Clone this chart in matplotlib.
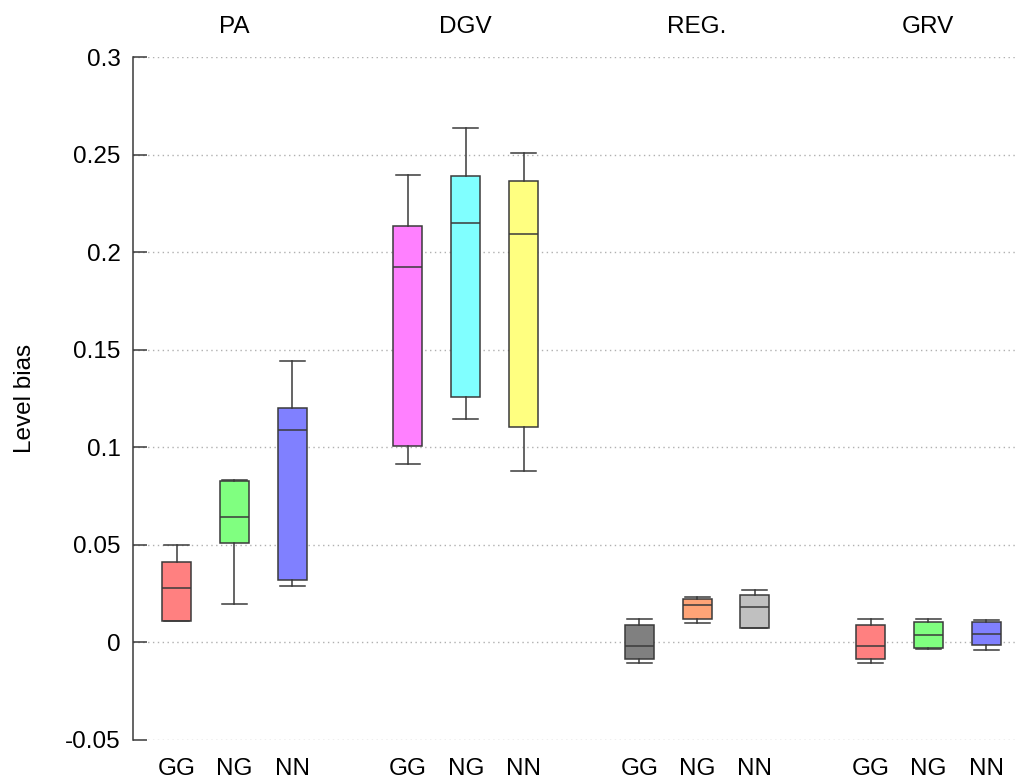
import matplotlib
matplotlib.use("Agg")
import matplotlib.pyplot as plt
import matplotlib.transforms as mtransforms

plt.rcParams['font.family'] = ['Liberation Sans', 'DejaVu Sans']

# groups and methods
groups = ['PA', 'DGV', 'REG.', 'GRV']
methods = ['GG', 'NG', 'NN']

# box statistics: whislo, q1, median, q3, whishi
whislo = [0.0109, 0.0197, 0.0289,
          0.0916, 0.1147, 0.0879,
          -0.0105, 0.0098, 0.0074,
          -0.0105, -0.0036, -0.0038]
q1 = [0.0109, 0.0511, 0.0319,
      0.1008, 0.1259, 0.1104,
      -0.0083, 0.0119, 0.0074,
      -0.0083, -0.0030, -0.0013]
med = [0.0279, 0.0643, 0.1089,
       0.1922, 0.2148, 0.2093,
       -0.0018, 0.0194, 0.0180,
       -0.0018, 0.0037, 0.0045]
q3 = [0.0414, 0.0827, 0.1201,
      0.2135, 0.2388, 0.2363,
      0.0091, 0.0224, 0.0242,
      0.0091, 0.0103, 0.0105]
whishi = [0.0500, 0.0830, 0.1442,
          0.2395, 0.2636, 0.2509,
          0.0119, 0.0235, 0.0269,
          0.0119, 0.0119, 0.0114]

fill_colors = ['#ff8080', '#80ff80', '#8080ff',
               '#ff80ff', '#80ffff', '#ffff80',
               '#808080', '#ffa477', '#c0c0c0',
               '#ff8080', '#80ff80', '#8080ff']

yticks = [-0.05, 0, 0.05, 0.1, 0.15, 0.2, 0.25, 0.3]
ytick_labels = ['-0.05', '0', '0.05', '0.1', '0.15', '0.2', '0.25', '0.3']

edge = '#3a3a3a'
fs = 17.5

# positions: 3 boxes per group, one empty slot between groups
positions = []
for g in range(len(groups)):
    for m in range(len(methods)):
        positions.append(1 + g * 4 + m)

stats = []
for i in range(len(positions)):
    stats.append({'whislo': whislo[i], 'q1': q1[i], 'med': med[i],
                  'q3': q3[i], 'whishi': whishi[i], 'fliers': []})

fig = plt.figure(figsize=(10.19, 7.80), dpi=100)
ax = fig.add_axes([133 / 1019, 1 - 740 / 780, (1018 - 133) / 1019, (740 - 57) / 780])

bp = ax.bxp(stats, positions=positions, widths=0.5, capwidths=0.43,
            patch_artist=True, showfliers=False,
            boxprops=dict(edgecolor=edge, linewidth=1.1),
            whiskerprops=dict(color=edge, linewidth=1.1),
            capprops=dict(color=edge, linewidth=1.1),
            medianprops=dict(color=edge, linewidth=1.1))
for patch, c in zip(bp['boxes'], fill_colors):
    patch.set_facecolor(c)

ax.set_xlim(0.245, 15.55)
ax.set_ylim(-0.05, 0.3)

ax.set_yticks(yticks)
ax.set_yticklabels(ytick_labels)
ax.set_xticks(positions)
ax.set_xticklabels(methods * len(groups))

ax.tick_params(axis='y', direction='in', length=10, width=1.1, color=edge,
               labelsize=fs, pad=9)
ax.tick_params(axis='x', length=0, labelsize=fs, pad=13)

for s in ['top', 'right', 'bottom']:
    ax.spines[s].set_visible(False)
ax.spines['left'].set_color(edge)
ax.spines['left'].set_linewidth(1.1)

ax.yaxis.grid(True, linestyle=(0, (1, 2.5)), color='#b0b0b0', linewidth=1)
ax.set_axisbelow(True)

ax.set_ylabel('Level bias', fontsize=fs)
ax.yaxis.set_label_coords(-0.1095, 0.5)

trans = mtransforms.blended_transform_factory(ax.transData, ax.transAxes)
for g, name in enumerate(groups):
    ax.text(2 + g * 4, 1.044, name, transform=trans, ha='center', va='center',
            fontsize=fs)

fig.savefig('out.png', dpi=100)
